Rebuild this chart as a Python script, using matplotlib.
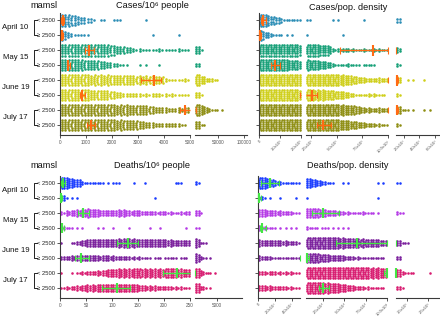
import numpy as np
import matplotlib
matplotlib.use('Agg')
import matplotlib.pyplot as plt
from matplotlib.transforms import blended_transform_factory

plt.rcParams['font.family'] = ['Liberation Sans', 'DejaVu Sans']

# ---- data (dot counts per value bin) ----
row_labels = ['< 2500', '\u2265 2500'] * 4
dates = ['April 10', 'May 15', 'June 19', 'July 17']
cases_colors = ['#2a8db5', '#17a078', '#cfcf1a', '#8e8e12']
deaths_colors = ['#1a3cff', '#b53ae6', '#7a1f9c', '#d81b70']

# Cases/10^6 people: 0-5000 (20 bins) and 5000-105000 (10 bins)
cases_pm_a = [
    [12, 11, 9, 6, 4, 1, 2, 0, 2, 1, 0, 0, 0, 1, 0, 0, 0, 0, 0, 0],
    [9, 5, 2, 2, 1, 0, 0, 0, 0, 0, 0, 0, 0, 0, 1, 0, 0, 0, 1, 0],
    [12, 12, 12, 12, 12, 12, 12, 11, 9, 8, 6, 3, 3, 2, 2, 3, 2, 2, 3, 2],
    [12, 12, 12, 11, 10, 10, 8, 6, 4, 2, 1, 0, 1, 1, 0, 1, 0, 0, 0, 0],
    [12, 12, 12, 12, 11, 11, 11, 11, 10, 10, 10, 9, 9, 9, 9, 8, 3, 2, 2, 3],
    [12, 12, 12, 12, 11, 10, 10, 9, 7, 5, 4, 4, 3, 3, 4, 3, 3, 3, 2, 2],
    [12, 12, 12, 12, 12, 12, 12, 12, 11, 11, 11, 10, 10, 9, 7, 6, 5, 4, 5, 6],
    [12, 12, 12, 12, 12, 12, 12, 12, 11, 11, 10, 10, 8, 6, 5, 4, 4, 4, 3, 1],
]
cases_pm_b = [
    [0, 0, 0, 0, 0, 0, 0, 0, 0, 0],
    [0, 0, 0, 0, 0, 0, 0, 0, 0, 0],
    [8, 1, 0, 0, 0, 0, 0, 0, 0, 0],
    [4, 0, 0, 0, 0, 0, 0, 0, 0, 0],
    [12, 8, 4, 3, 1, 0, 0, 0, 0, 0],
    [6, 1, 0, 0, 0, 0, 0, 0, 0, 0],
    [12, 9, 5, 2, 1, 1, 0, 0, 0, 0],
    [8, 2, 0, 0, 0, 0, 0, 0, 0, 0],
]
cases_pm_med = [100, 60, 1100, 300, 3600, 850, 4800, 1200]
cases_pm_q1 = [40, 20, 950, 250, 3100, 750, 4600, 1050]
cases_pm_q3 = [170, 120, 1300, 380, 3900, 950, 7000, 1350]

# Cases/pop. density: 0-2e5 (8 bins), 2e5-1e6 (16 bins), 1e6-6.5e6 (8 bins)
cases_pd_a = [
    [12, 11, 8, 6, 3, 2, 2, 2],
    [9, 6, 3, 2, 1, 1, 1, 0],
    [12, 12, 12, 12, 12, 12, 12, 11],
    [12, 12, 12, 12, 12, 11, 10, 9],
    [12, 12, 12, 12, 12, 12, 12, 12],
    [12, 12, 12, 12, 12, 12, 12, 11],
    [12, 12, 12, 12, 12, 12, 12, 12],
    [12, 12, 12, 12, 12, 12, 12, 12],
]
cases_pd_b = [
    [2, 0, 0, 0, 0, 1, 1, 0, 0, 0, 0, 1, 0, 0, 0, 0],
    [1, 0, 0, 0, 0, 0, 0, 1, 0, 0, 0, 0, 0, 0, 0, 0],
    [12, 12, 11, 10, 9, 3, 3, 4, 3, 3, 2, 3, 2, 3, 3, 2],
    [11, 10, 9, 8, 6, 3, 2, 2, 3, 2, 1, 2, 2, 1, 0, 0],
    [12, 12, 12, 12, 12, 12, 11, 11, 10, 8, 6, 5, 4, 4, 5, 4],
    [12, 11, 11, 11, 10, 9, 8, 7, 5, 3, 2, 2, 3, 3, 2, 1],
    [12, 12, 12, 12, 12, 12, 11, 11, 10, 9, 7, 5, 5, 4, 5, 4],
    [12, 12, 12, 12, 12, 12, 11, 10, 9, 8, 6, 5, 4, 3, 3, 2],
]
cases_pd_c = [
    [4, 0, 0, 0, 0, 0, 0, 0],
    [0, 0, 0, 0, 0, 0, 0, 0],
    [5, 0, 0, 0, 0, 0, 0, 0],
    [3, 0, 0, 0, 0, 0, 0, 0],
    [7, 0, 1, 1, 0, 1, 0, 0],
    [3, 0, 0, 0, 0, 0, 0, 0],
    [8, 2, 1, 1, 0, 1, 1, 0],
    [3, 0, 0, 0, 0, 0, 0, 0],
]
cases_pd_med = [2.0e4, 4.0e3, 8.5e5, 7.5e4, 1.1e6, 2.6e5, 1.1e6, 3.7e5]
cases_pd_q1 = [8.0e3, 1.0e3, 5.3e5, 5.5e4, 1.0e6, 1.95e5, 1.0e6, 3.1e5]
cases_pd_q3 = [3.5e4, 8.0e3, 1.0e6, 1.0e5, 1.25e6, 3.1e5, 1.2e6, 4.4e5]

# Deaths/10^6 people: 0-250 (25 bins) and 250-10250 (10 bins)
deaths_pm_a = [
    [12, 11, 9, 8, 3, 2, 2, 2, 1, 1, 2, 1, 0, 0, 1, 0, 1, 0, 0, 0, 0, 0, 2, 1, 0],
    [6, 1, 1, 1, 0, 0, 0, 0, 0, 0, 0, 0, 0, 0, 0, 0, 0, 0, 1, 0, 0, 0, 0, 0, 0],
    [3, 5, 6, 7, 8, 9, 8, 7, 6, 6, 6, 7, 7, 5, 6, 5, 4, 4, 3, 4, 3, 3, 2, 3, 4],
    [4, 2, 1, 1, 1, 0, 0, 1, 1, 0, 1, 0, 0, 1, 0, 0, 0, 1, 0, 1, 0, 0, 0, 0, 1],
    [1, 0, 2, 4, 6, 8, 8, 8, 8, 8, 8, 9, 10, 9, 9, 8, 8, 8, 8, 8, 7, 7, 6, 6, 6],
    [4, 4, 5, 6, 6, 6, 6, 5, 6, 5, 5, 4, 4, 3, 3, 3, 2, 1, 2, 1, 2, 2, 1, 2, 1],
    [1, 0, 1, 2, 3, 4, 4, 5, 6, 8, 8, 9, 9, 9, 10, 9, 9, 9, 9, 9, 10, 10, 9, 9, 8],
    [2, 3, 4, 5, 6, 7, 7, 8, 8, 8, 8, 8, 8, 8, 8, 6, 5, 5, 5, 4, 4, 3, 3, 3, 2],
]
deaths_pm_b = [
    [3, 0, 0, 0, 0, 0, 0, 0, 0, 0],
    [0, 0, 0, 0, 0, 0, 0, 0, 0, 0],
    [6, 1, 0, 0, 0, 0, 0, 0, 0, 0],
    [2, 0, 0, 0, 0, 0, 0, 0, 0, 0],
    [9, 2, 1, 0, 0, 0, 0, 0, 0, 0],
    [9, 3, 1, 1, 0, 0, 0, 0, 0, 0],
    [10, 5, 2, 1, 1, 0, 0, 0, 0, 0],
    [10, 4, 1, 1, 0, 0, 0, 0, 0, 0],
]
deaths_pm_med = [5, 1, 45, 4, 130, 40, 225, 110]
deaths_pm_q1 = [2, 0, 35, 1, 110, 28, 198, 80]
deaths_pm_q3 = [10, 3, 55, 8, 150, 55, 252, 135]

# Deaths/pop. density: 0-5e3 (8 bins), 5e3-1e5 (16 bins), 1e5-3e5 (8 bins)
deaths_pd_a = [
    [12, 11, 8, 5, 3, 2, 2, 2],
    [4, 1, 1, 0, 1, 0, 0, 1],
    [8, 7, 6, 5, 5, 4, 3, 2],
    [5, 3, 2, 1, 1, 1, 1, 1],
    [7, 6, 6, 6, 5, 5, 4, 3],
    [5, 4, 3, 2, 2, 2, 2, 2],
    [4, 3, 4, 3, 3, 3, 3, 2],
    [6, 5, 5, 4, 4, 3, 3, 2],
]
deaths_pd_b = [
    [10, 8, 6, 4, 2, 1, 0, 1, 1, 0, 0, 0, 0, 0, 1, 1],
    [1, 0, 0, 0, 0, 0, 0, 0, 0, 0, 0, 0, 0, 0, 1, 0],
    [10, 10, 9, 8, 6, 6, 4, 3, 3, 2, 2, 3, 2, 1, 1, 0],
    [3, 2, 1, 2, 1, 1, 1, 1, 1, 0, 0, 0, 0, 0, 0, 0],
    [12, 12, 12, 12, 12, 12, 11, 11, 10, 10, 9, 9, 8, 8, 7, 6],
    [10, 10, 9, 8, 7, 6, 6, 5, 4, 3, 3, 2, 2, 2, 2, 1],
    [12, 12, 12, 12, 12, 12, 12, 12, 12, 12, 12, 12, 11, 11, 11, 10],
    [12, 12, 12, 11, 11, 10, 9, 8, 6, 5, 4, 3, 3, 2, 2, 1],
]
deaths_pd_c = [
    [2, 0, 0, 0, 0, 0, 0, 0],
    [0, 0, 0, 0, 0, 0, 0, 0],
    [3, 1, 0, 0, 0, 0, 0, 0],
    [0, 0, 0, 0, 0, 0, 0, 0],
    [6, 2, 1, 0, 0, 0, 0, 0],
    [4, 0, 0, 0, 0, 0, 0, 0],
    [8, 3, 2, 1, 0, 0, 1, 0],
    [4, 1, 0, 0, 0, 0, 0, 0],
]
deaths_pd_med = [1.4e3, 100, 2.5e4, 500, 6.5e4, 6.0e3, 1.0e5, 2.5e4]
deaths_pd_q1 = [400, 0, 1.2e4, 200, 4.0e4, 5.0e3, 9.6e4, 2.0e4]
deaths_pd_q3 = [2.5e3, 300, 4.4e4, 1.0e3, 1.0e5, 8.0e3, 1.02e5, 3.2e4]

# ---- layout ----
W, H = 440, 316
fig = plt.figure(figsize=(W / 100, H / 100), dpi=100)
DY = 0.14
SPINE = '#3a3a3a'


def px_axes(x0, x1, y0, y1):
    return fig.add_axes([x0 / W, 1 - y1 / H, (x1 - x0) / W, (y1 - y0) / H])


def swarm(ax, rows, lo, hi, colors):
    bw = (hi - lo) / len(rows[0])
    for r, counts in enumerate(rows):
        xs, ys = [], []
        for i, c in enumerate(counts):
            for j, k in enumerate([(c + 1) // 2, c // 2]):
                x = lo + (i + 0.25 + 0.5 * j) * bw
                for m in range(k):
                    off = (m - (k - 1) / 2) * DY
                    # slight "(" arc like the swarm columns in the original
                    xs.append(x + 0.5 * bw * off ** 2)
                    ys.append(r + off)
        ax.scatter(xs, ys, s=3.4, color=colors[r // 2], linewidths=0,
                   clip_on=False, zorder=2)


def medians(ax, lo, hi, med, q1, q3, color):
    for r in range(8):
        a, b = max(q1[r], lo), min(q3[r], hi)
        if a < b:
            ax.plot([a, b], [r, r], color=color, lw=1.0, clip_on=False,
                    solid_capstyle='butt', zorder=3)
        for v, h, lw in [(med[r], 0.36, 1.5), (q1[r], 0.22, 0.8), (q3[r], 0.22, 0.8)]:
            if lo <= v <= hi:
                ax.plot([v, v], [r - h, r + h], color=color, lw=lw,
                        clip_on=False, solid_capstyle='butt', zorder=3)


def sci(v, e):
    sup = {'3': '\u00b3', '4': '\u2074', '5': '\u2075', '6': '\u2076'}[str(e)]
    return '%.1fx10%s' % (v / 10 ** e, sup)


panels = [
    (13, 135, cases_colors, '#ff6a13', cases_pm_med, cases_pm_q1, cases_pm_q3, True, [
        (60, 190, 0, 5000, cases_pm_a, [0, 1000, 2000, 3000, 4000, 5000], None),
        (195, 247, 5000, 105000, cases_pm_b, [50000, 100000], None)]),
    (13, 135, cases_colors, '#ff6a13', cases_pd_med, cases_pd_q1, cases_pd_q3, False, [
        (259, 301, 0, 2e5, cases_pd_a, [0, 1e5, 2e5], 5),
        (306, 388, 2e5, 1e6, cases_pd_b, [2.5e5, 5e5, 7.5e5, 1e6], 5),
        (396, 439, 1e6, 6.5e6, cases_pd_c, [2e6, 4e6, 6e6], 6)]),
    (175.5, 298, deaths_colors, '#44e644', deaths_pm_med, deaths_pm_q1, deaths_pm_q3, True, [
        (60, 190, 0, 250, deaths_pm_a, [0, 50, 100, 150, 200, 250], None),
        (195, 242, 250, 10250, deaths_pm_b, [5000], None)]),
    (175.5, 298, deaths_colors, '#44e644', deaths_pd_med, deaths_pd_q1, deaths_pd_q3, False, [
        (258, 300, 0, 5e3, deaths_pd_a, [0, 2e3, 4e3], 3),
        (306, 387, 5e3, 1e5, deaths_pd_b, [2.5e4, 5e4, 7.5e4, 1e5], 4),
        (396, 439, 1e5, 3e5, deaths_pd_c, [1.5e5, 2.5e5], 5)]),
]

for top, bot, colors, mcol, med, q1, q3, left_labels, segs in panels:
    for s, (x0, x1, lo, hi, rows, ticks, exp) in enumerate(segs):
        ax = px_axes(x0, x1, top, bot)
        ax.set_xlim(lo, hi)
        ax.set_ylim(7.67, -0.5)
        ax.patch.set_alpha(0)
        for side in ['top', 'right']:
            ax.spines[side].set_visible(False)
        ax.spines['bottom'].set_color(SPINE)
        ax.spines['bottom'].set_linewidth(0.8)
        ax.spines['left'].set_color(SPINE)
        ax.spines['left'].set_linewidth(0.8)
        ax.tick_params(colors=SPINE, length=2, width=0.6, labelsize=3.3,
                       labelcolor='#555555', pad=1.5)
        ax.set_xticks(ticks)
        if exp is None:
            ax.set_xticklabels([str(int(t)) for t in ticks])
        else:
            ax.tick_params(axis='x', labelsize=3.0, pad=1)
            ax.set_xticklabels([('0' if t == 0 else sci(t, exp - (t < 10 ** exp)))
                                for t in ticks], rotation=45, ha='right',
                               rotation_mode='anchor')
        if s == 0:
            ax.set_yticks(range(8))
            if left_labels:
                ax.set_yticklabels(row_labels, fontsize=4.2, color='#222222')
            else:
                ax.set_yticklabels([])
        else:
            ax.spines['left'].set_visible(False)
            ax.set_yticks([])
        swarm(ax, rows, lo, hi, colors)
        medians(ax, lo, hi, med, q1, q3, mcol)
        if s == 0 and left_labels:
            tr = blended_transform_factory(fig.transFigure, ax.transData)
            for g, d in enumerate(dates):
                ax.plot([36.5 / W, 33.5 / W, 33.5 / W, 36.5 / W],
                        [2 * g, 2 * g, 2 * g + 1, 2 * g + 1], color='#222222',
                        lw=0.7, transform=tr, clip_on=False)
                ax.text(15.5 / W, 2 * g + 0.5, d, transform=tr, fontsize=5.6,
                        ha='center', va='center', color='#111111')

titles = [(44, 6, 'mamsl'), (152, 6, 'Cases/10\u2076 people'),
          (348, 7, 'Cases/pop. density'), (44, 165, 'mamsl'),
          (152, 165, 'Deaths/10\u2076 people'), (348, 165, 'Deaths/pop. density')]
for x, y, t in titles:
    fig.text(x / W, 1 - y / H, t, ha='center', va='center', fontsize=6.6,
             color='#111111')

fig.savefig('out.png', dpi=100)
